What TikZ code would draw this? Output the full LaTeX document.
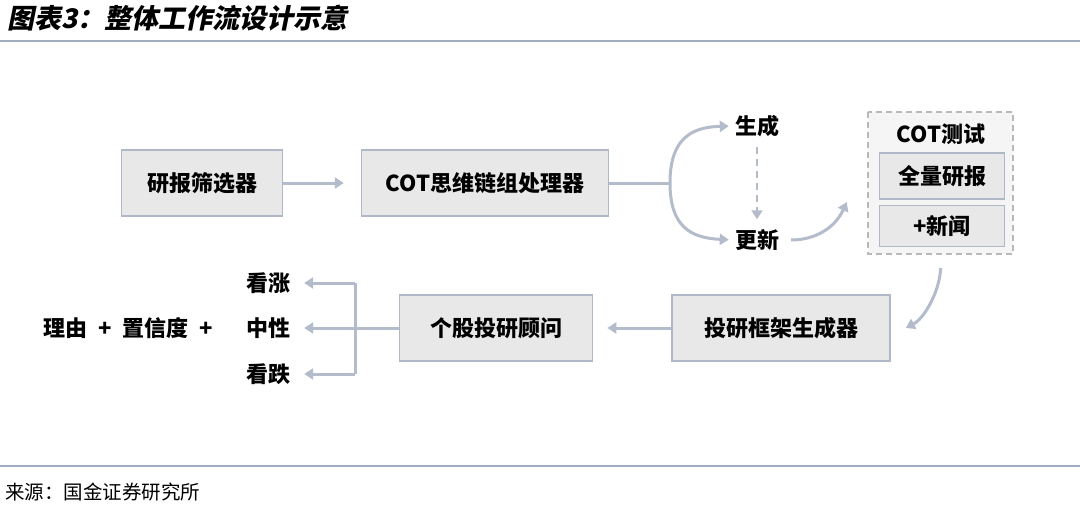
\documentclass[tikz,border=0pt]{standalone}
\usepackage{fontspec}
\setmainfont{Noto Sans CJK SC}
\newfontfamily\titlefont{Noto Sans CJK SC}[FakeSlant=0.2]
\usetikzlibrary{arrows.meta,positioning,calc}
\definecolor{rule}{RGB}{160,174,192}
\definecolor{link}{RGB}{180,188,204}
\definecolor{boxline}{RGB}{176,184,200}
\definecolor{boxfill}{RGB}{232,232,232}

\begin{document}
\begin{tikzpicture}[x=1pt, y=-1pt,
    every node/.style={font=\fontsize{22}{26}\selectfont\bfseries, inner sep=0pt},
    stage/.style={draw=boxline, line width=1.5pt, fill=boxfill, minimum height=66pt},
    inner/.style={draw=boxline, line width=1.5pt, fill=boxfill, minimum width=125pt},
    flow/.style={draw=link, line width=3pt, -{Triangle[length=9pt,width=11pt]}},
    plain/.style={draw=link, line width=3pt}]
  \useasboundingbox (0,0) rectangle (1080,506);
  \fill[white] (0,0) rectangle (1080,506);

  % title and source
  \node[anchor=west, font=\titlefont\fontsize{27}{30}\selectfont\bfseries] (title) at (7,18) {图表3：整体工作流设计示意};
  \draw[rule, line width=1.2pt] (0,41) -- (1080,41);
  \draw[rule, line width=1.2pt] (0,466) -- (1080,466);
  \node[anchor=west, font=\fontsize{19.5}{22}\selectfont] (source) at (5,492) {来源：国金证券研究所};

  % upper row
  \node[stage, minimum width=161pt] (filter) at (202,183) {研报筛选器};
  \node[stage, minimum width=247pt] (cot) at (485,183) {COT思维链组处理器};
  \node (gen) at (757,126) {生成};
  \node (upd) at (757,240) {更新};
  \coordinate (fork) at (670,183);

  \fill[gray!8] (868,112) rectangle (1013,254);
  \draw[gray!55, line width=1.5pt, dash pattern=on 6pt off 4pt] (868,112) rectangle (1013,254);
  \node (test) at (941,134) {COT测试};
  \node[inner, minimum height=46pt] (full) at (942,176) {全量研报};
  \node[inner, minimum height=41pt] (news) at (942,226) {+新闻};
  \coordinate (testbox) at (941,254);

  % lower row
  \node[stage, minimum width=218pt] (frame) at (781,328) {投研框架生成器};
  \node[stage, minimum width=193pt] (advisor) at (496,328) {个股投研顾问};
  \node (up) at (268,283) {看涨};
  \node (neutral) at (268,328) {中性};
  \node (down) at (268,374) {看跌};
  \node (reason) at (128,328) {理由\hspace{0.5em}+\hspace{0.5em}置信度\hspace{0.5em}+};
  \coordinate (split) at (355,328);

  % connectors
  \draw[flow, shorten >=17pt] (filter) -- (cot);
  \draw[plain] (cot) -- (fork);
  \draw[flow, shorten >=6pt] (fork) .. controls (670,140) and (690,127) .. (gen.west);
  \draw[flow, shorten >=6pt] (fork) .. controls (670,226) and (690,238) .. (upd.west);
  \draw[flow, line width=2pt, dash pattern=on 7pt off 5pt, shorten <=10pt, shorten >=10pt] (gen) -- (upd);
  \draw[flow, shorten <=12pt] (upd.east) .. controls (815,240) and (835,228) .. ($(news.west)+(-32,-24)$);
  \draw[flow, shorten <=14pt] (testbox) .. controls (940,290) and (925,318) .. ($(frame.east)+(15,0)$);
  \draw[flow, shorten >=14pt] (frame) -- (advisor);
  \draw[plain] (advisor) -- (split);
  \draw[plain] (split |- up) -- (split |- down);
  \draw[flow, shorten >=14pt] (split |- up) -- (up);
  \draw[flow, shorten >=14pt] (split) -- (neutral);
  \draw[flow, shorten >=14pt] (split |- down) -- (down);
\end{tikzpicture}
\end{document}
